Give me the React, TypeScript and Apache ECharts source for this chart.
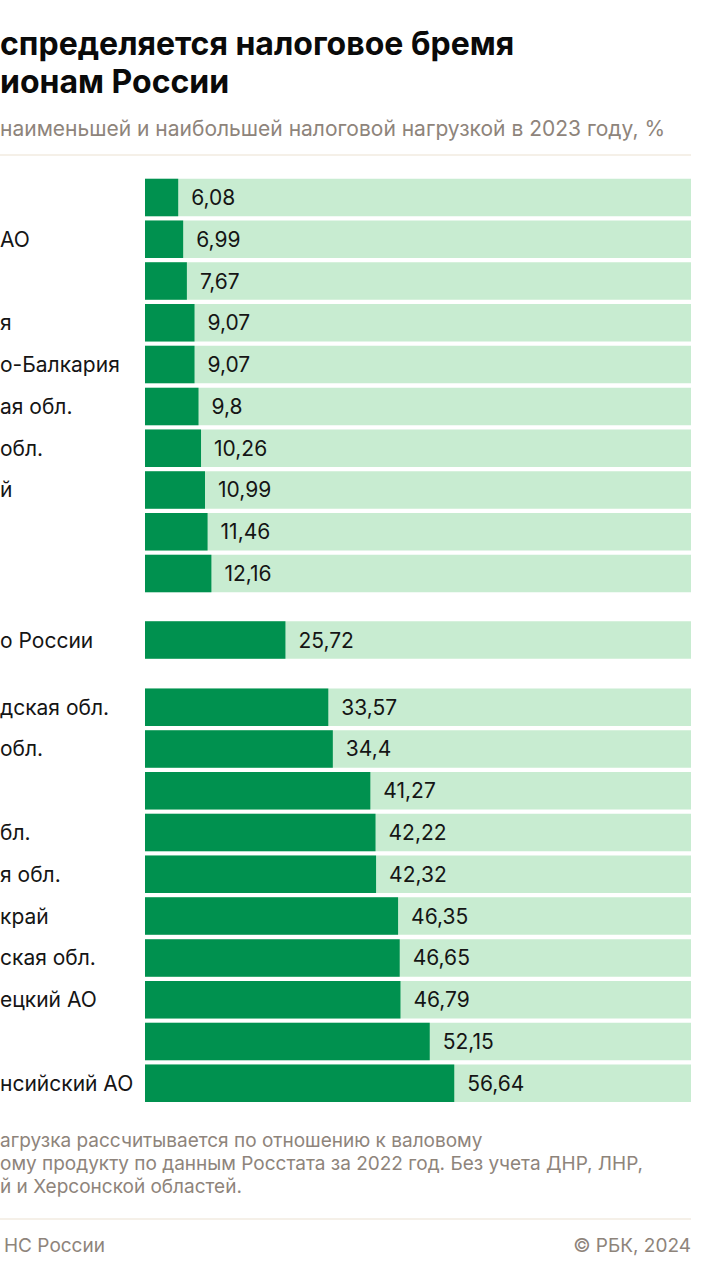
import React, { useEffect, useRef } from "react";
import * as echarts from "echarts";

// ---- data ----
const lowLabels = ["", "АО", "", "я", "о-Балкария", "ая обл.", "обл.", "й", "", ""];
const lowValues = [6.08, 6.99, 7.67, 9.07, 9.07, 9.8, 10.26, 10.99, 11.46, 12.16];
const avgLabels = ["о России"];
const avgValues = [25.72];
const highLabels = ["дская обл.", "обл.", "", "бл.", "я обл.", "край", "ская обл.", "ецкий АО", "", "нсийский АО"];
const highValues = [33.57, 34.4, 41.27, 42.22, 42.32, 46.35, 46.65, 46.79, 52.15, 56.64];

const titleLines = ["спределяется налоговое бремя", "ионам России"];
const subtitle = "наименьшей и наибольшей налоговой нагрузкой в 2023 году, %";
const noteLines = [
  "агрузка рассчитывается по отношению к валовому",
  "ому продукту по данным Росстата за 2022 год. Без учета ДНР, ЛНР,",
  "й и Херсонской областей.",
];
const sourceText = "НС России";
const copyrightText = "© РБК, 2024";

const DARK = "#00914F";
const LIGHT = "#C8ECD1";
const TEXT = "#151515";
const GRAY = "#8E847B";
const FONT = "Inter, Roboto, sans-serif";

export default function App() {
  const ref = useRef<HTMLDivElement>(null);
  useEffect(() => {
    if (!ref.current) return;
    const chart = echarts.init(ref.current, null, { renderer: "svg" });
    const pitch = 41.78;
    const groups = [
      { labels: lowLabels, values: lowValues, center0: 197.5 },
      { labels: avgLabels, values: avgValues, center0: 640 },
      { labels: highLabels, values: highValues, center0: 707.2 },
    ];
    const grids: any[] = [];
    const xAxes: any[] = [];
    const yAxes: any[] = [];
    const series: any[] = [];
    groups.forEach((g, gi) => {
      grids.push({
        left: 145,
        right: 29,
        top: g.center0 - pitch / 2,
        height: pitch * g.values.length,
        containLabel: false,
        outerBoundsMode: "none",
      });
      xAxes.push({ type: "value", gridIndex: gi, min: 0, max: 100, show: false });
      yAxes.push({
        type: "category",
        gridIndex: gi,
        position: "left",
        inverse: true,
        data: g.labels,
        axisLine: { show: false },
        axisTick: { show: false },
        axisLabel: {
          align: "left",
          margin: 145,
          fontSize: 21,
          color: TEXT,
          fontFamily: FONT,
        },
      });
      series.push({
        type: "bar",
        xAxisIndex: gi,
        yAxisIndex: gi,
        data: g.values,
        barWidth: 37.5,
        itemStyle: { color: DARK },
        showBackground: true,
        backgroundStyle: { color: LIGHT },
        label: {
          show: true,
          position: "right",
          distance: 13,
          fontSize: 21,
          color: TEXT,
          fontFamily: FONT,
          formatter: (p: any) => String(p.value).replace(".", ","),
        },
      });
    });

    const graphic: any[] = [
      ...titleLines.map((t, i) => ({
        type: "text",
        x: 0,
        y: 43 + i * 38,
        style: { text: t, fill: "#0a0a0a", fontSize: 32, fontWeight: "bold", fontFamily: FONT, verticalAlign: "middle" },
      })),
      {
        type: "text",
        x: 0,
        y: 128,
        style: { text: subtitle, fill: GRAY, fontSize: 21, fontFamily: FONT, verticalAlign: "middle" },
      },
      {
        type: "line",
        shape: { x1: 0, y1: 155, x2: 691, y2: 155 },
        style: { stroke: "#F5F0E8", lineWidth: 2 },
      },
      ...noteLines.map((t, i) => ({
        type: "text",
        x: 0,
        y: 1140 + i * 23.3,
        style: { text: t, fill: GRAY, fontSize: 19, fontFamily: FONT, verticalAlign: "middle" },
      })),
      {
        type: "line",
        shape: { x1: 0, y1: 1219, x2: 691, y2: 1219 },
        style: { stroke: "#F5F0E8", lineWidth: 2 },
      },
      {
        type: "text",
        x: 4,
        y: 1245,
        style: { text: sourceText, fill: GRAY, fontSize: 19, fontFamily: FONT, verticalAlign: "middle" },
      },
      {
        type: "text",
        x: 691,
        y: 1245,
        style: { text: copyrightText, fill: GRAY, fontSize: 19, fontFamily: FONT, align: "right", verticalAlign: "middle" },
      },
    ];

    chart.setOption({
      animation: false,
      backgroundColor: "#ffffff",
      grid: grids,
      xAxis: xAxes,
      yAxis: yAxes,
      series,
      graphic,
    });
    return () => chart.dispose();
  }, []);
  return (
    <div
      ref={ref}
      style={{ position: "absolute", left: 0, top: 0, width: 720, height: 1280, background: "#fff" }}
    />
  );
}
